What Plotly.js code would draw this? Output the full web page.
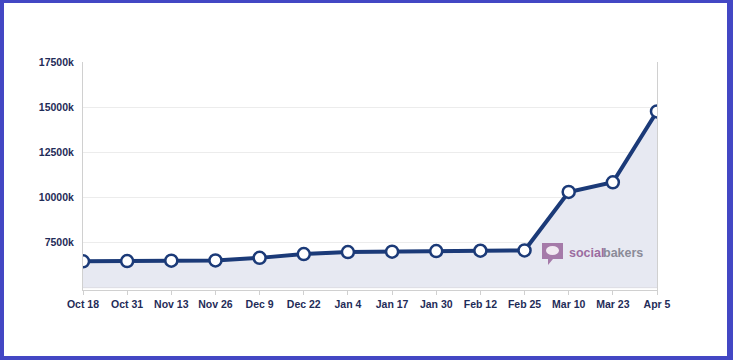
<!DOCTYPE html>
<html>
<head>
<meta charset="utf-8">
<script src="https://cdn.plot.ly/plotly-3.0.1.min.js"></script>
<style>
  html, body { margin: 0; padding: 0; background: #fff; }
  #wrap { position: relative; width: 733px; height: 360px; }
  #chart { position: absolute; left: 0; top: 0; width: 733px; height: 360px; }
  #frame { position: absolute; left: 0; top: 0; width: 733px; height: 360px; box-sizing: border-box;
           border-style: solid; border-color: #4347c4; border-width: 3px 6px 4px 4px; pointer-events: none; }
</style>
</head>
<body>
<div id="wrap">
  <div id="chart"></div>
  <div id="frame"></div>
</div>
<script>
const dates = ["Oct 18", "Oct 31", "Nov 13", "Nov 26", "Dec 9", "Dec 22", "Jan 4", "Jan 17", "Jan 30", "Feb 12", "Feb 25", "Mar 10", "Mar 23", "Apr 5"];
const fans = [6460, 6475, 6495, 6510, 6650, 6860, 6970, 6990, 7025, 7045, 7060, 10300, 10835, 14760];
const fillFloor = 5000;
const yTickVals = [7500, 10000, 12500, 15000, 17500];
const yTickText = ["7500k", "10000k", "12500k", "15000k", "17500k"];

const idx = dates.map((d, i) => i);
const navy = "#1b3a78";
const labelFont = { family: "Liberation Sans, Arial, sans-serif", size: 10.5, color: "#1f2c58", weight: "bold" };

const traces = [
  {
    x: idx, y: dates.map(() => fillFloor), type: "scatter", mode: "lines",
    line: { width: 0, color: "rgba(0,0,0,0)" }, hoverinfo: "skip", showlegend: false
  },
  {
    x: idx, y: fans, type: "scatter", mode: "lines+markers",
    fill: "tonexty", fillcolor: "#e7e9f2",
    line: { color: navy, width: 4 },
    marker: { size: 12, color: "#ffffff", line: { color: navy, width: 2.5 } },
    showlegend: false
  }
];

const px2x = p => (p - 83) / 574;
const px2y = p => (290 - p) / 228;
const wmFont = { family: "Liberation Sans, Arial, sans-serif", size: 12.5, weight: "bold" };

const layout = {
  width: 733, height: 360,
  margin: { l: 83, r: 76, t: 62, b: 70 },
  paper_bgcolor: "#ffffff", plot_bgcolor: "#ffffff",
  showlegend: false,
  xaxis: {
    range: [0, 13], tickvals: idx, ticktext: dates,
    showgrid: false, zeroline: false,
    showline: true, linecolor: "#d0d0d0", linewidth: 1,
    ticks: "outside", ticklen: 4, tickcolor: "#d0d0d0",
    tickfont: labelFont
  },
  yaxis: {
    range: [4870, 17500], tickvals: yTickVals, ticktext: yTickText,
    showgrid: true, gridcolor: "#ececec", zeroline: false,
    showline: true, mirror: true, linecolor: "#d0d0d0", linewidth: 1,
    ticks: "", tickfont: labelFont, ticklabelstandoff: 6
  },
  shapes: [
    { type: "line", xref: "paper", yref: "y", x0: 0, x1: 1, y0: fillFloor, y1: fillFloor,
      line: { color: "#dcdce4", width: 1 }, layer: "above" },
    { type: "path", xref: "paper", yref: "paper",
      path: "M " + px2x(542) + "," + px2y(243) + " L " + px2x(563) + "," + px2y(243) +
            " L " + px2x(563) + "," + px2y(259) + " L " + px2x(553) + "," + px2y(259) +
            " L " + px2x(548) + "," + px2y(265) + " L " + px2x(548) + "," + px2y(259) +
            " L " + px2x(542) + "," + px2y(259) + " Z",
      fillcolor: "#a57aa9", line: { width: 0 }, layer: "above" },
    { type: "circle", xref: "paper", yref: "paper",
      x0: px2x(546), x1: px2x(559), y0: px2y(255), y1: px2y(246),
      fillcolor: "#f1e9f2", line: { width: 0 }, layer: "above" }
  ],
  annotations: [
    { xref: "paper", yref: "paper", x: px2x(604), y: px2y(252.5), xanchor: "right", yanchor: "middle",
      showarrow: false, borderpad: 0, borderwidth: 0, text: "social", font: Object.assign({ color: "#9b6ca0" }, wmFont) },
    { xref: "paper", yref: "paper", x: px2x(603), y: px2y(252.5), xanchor: "left", yanchor: "middle",
      showarrow: false, borderpad: 0, borderwidth: 0, text: "bakers", font: Object.assign({ color: "#8b8b98" }, wmFont) }
  ]
};

Plotly.newPlot("chart", traces, layout, { displayModeBar: false, staticPlot: true });
</script>
</body>
</html>
